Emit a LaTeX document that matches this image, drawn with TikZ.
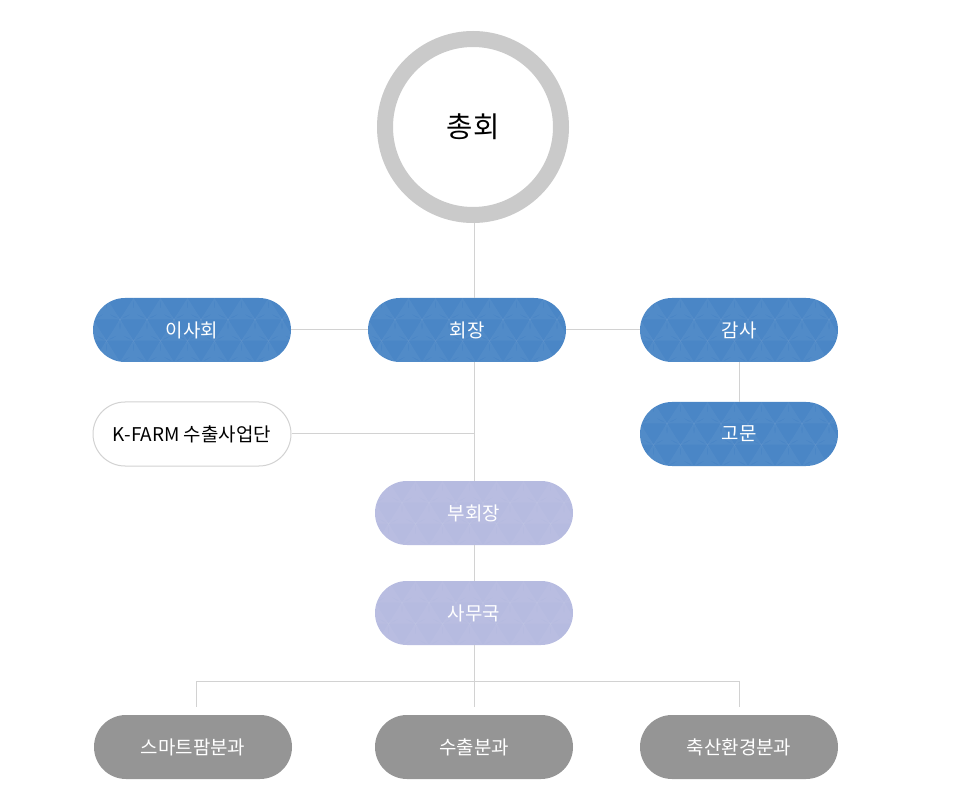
\documentclass[tikz,border=0pt]{standalone}
\usepackage{fontspec}
\setmainfont{Noto Sans CJK KR}
\usetikzlibrary{positioning}
\definecolor{ringgray}{HTML}{CACACA}
\definecolor{chairblue}{HTML}{4A86C6}
\definecolor{vicelav}{HTML}{B6BBE0}
\definecolor{unitgray}{HTML}{959595}
\definecolor{wiregray}{HTML}{D2D2D2}
\tikzset{
  pill/.style={rectangle,rounded corners=24pt,minimum width=148.5pt,minimum height=48pt,inner sep=0pt,
    text=white,font=\fontsize{14.2}{16}\selectfont},
  tri/.style={path picture={
    \foreach \yy/\xs in {16/0,32/10.125,48/0} \foreach \c in {-1,...,8}
      \fill[white,opacity=.045] ([xshift=\c*20.25pt+\xs pt,yshift=-\yy pt]path picture bounding box.north west)
        -- ++(20.25pt,0pt) -- ++(-10.125pt,16pt) -- cycle;}},
  blue/.style={pill,tri,fill=chairblue},
  lav/.style={pill,tri,fill=vicelav},
  unit/.style={pill,fill=unitgray},
  plain/.style={pill,draw=wiregray,line width=.75pt,fill=white,text=black},
  ring/.style={circle,draw=ringgray,line width=12pt,minimum size=132pt,inner sep=0pt,font=\fontsize{21.5}{24}\selectfont},
  line/.style={draw=wiregray,line width=.75pt}
}

\begin{document}
\begin{tikzpicture}[x=0.75pt,y=-0.75pt]
\useasboundingbox (0,0) rectangle (961,802);
\node[ring] (chong) at (473,127) {총회};
\node[blue] (isa) at (192,330) {이사회};
\node[blue] (hoe) at (467,330) {회장};
\node[blue] (gamsa) at (739,330) {감사};
\node[blue] (gomun) at (739,434) {고문};
\node[plain] (kfarm) at (192,434) {K-FARM 수출사업단};
\node[lav] (bu) at (474,513) {부회장};
\node[lav] (samu) at (474,613) {사무국};
\node[unit] (smart) at (193,747) {스마트팜분과};
\node[unit] (export) at (474,747) {수출분과};
\node[unit] (stock) at (739,747) {축산환경분과};
\coordinate (fork) at (474,681);
\coordinate (lowL) at (196,707);
\coordinate (lowC) at (474,707);
\coordinate (lowR) at (739,707);
\draw[line] (chong.south -| bu) -- (hoe.north -| bu);
\draw[line] (isa) -- (hoe);
\draw[line] (hoe) -- (gamsa);
\draw[line] (gamsa) -- (gomun);
\draw[line] (hoe.south -| bu) -- (bu);
\draw[line] (kfarm) -- (kfarm -| bu);
\draw[line] (bu) -- (samu);
\draw[line] (samu) -- (fork);
\draw[line] (fork) -| (lowL);
\draw[line] (fork) -- (lowC);
\draw[line] (fork) -| (lowR);
\end{tikzpicture}
\end{document}
